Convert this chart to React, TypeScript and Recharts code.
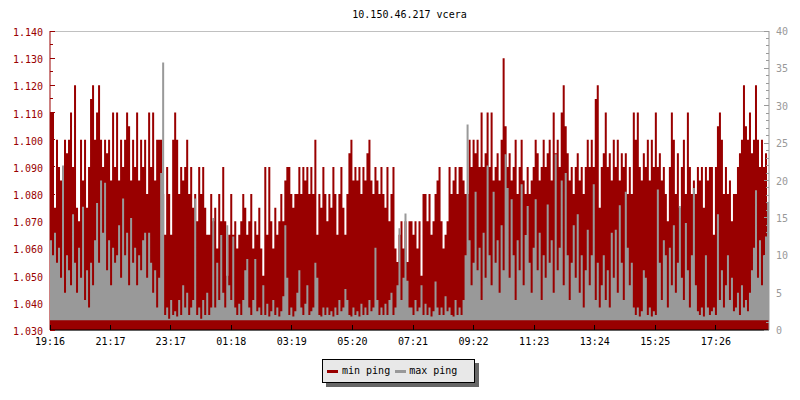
import React from 'react';
import { ComposedChart, Area, XAxis, YAxis, CartesianGrid, Legend } from 'recharts';

const TITLE = '10.150.46.217 vcera';
const timeLabels = ['19:16', '21:17', '23:17', '01:18', '03:19', '05:20', '07:21', '09:22', '11:23', '13:24', '15:25', '17:26'];
const timeTickMinutes = [0, 121, 241, 362, 483, 604, 725, 846, 967, 1088, 1209, 1330];
const leftTicks = [1.03, 1.035, 1.04, 1.045, 1.05, 1.055, 1.06, 1.065, 1.07, 1.075, 1.08, 1.085, 1.09, 1.095, 1.1, 1.105, 1.11, 1.115, 1.12, 1.125, 1.13, 1.135, 1.14];
const gridTicks = [1.04, 1.05, 1.06, 1.07, 1.08, 1.09, 1.1, 1.11, 1.12, 1.13, 1.14];
const rightTicks = [0, 1, 2, 3, 4, 5, 6, 7, 8, 9, 10, 11, 12, 13, 14, 15, 16, 17, 18, 19, 20, 21, 22, 23, 24, 25, 26, 27, 28, 29, 30, 31, 32, 33, 34, 35, 36, 37, 38, 39, 40];
const SAMPLE_MINUTES = 4;

const minPing = [
  1.110, 1.110, 1.075, 1.100, 1.090, 1.085, 1.090, 1.100, 1.095, 1.100,
  1.110, 1.090, 1.120, 1.075, 1.070, 1.100, 1.085, 1.100, 1.075, 1.090,
  1.115, 1.120, 1.100, 1.110, 1.120, 1.100, 1.090, 1.100, 1.095, 1.100,
  1.085, 1.110, 1.090, 1.110, 1.085, 1.100, 1.090, 1.100, 1.110, 1.105,
  1.085, 1.100, 1.090, 1.110, 1.085, 1.100, 1.090, 1.100, 1.080, 1.110,
  1.090, 1.110, 1.085, 1.100, 1.100, 1.100, 1.080, 1.065, 1.090, 1.080,
  1.065, 1.100, 1.110, 1.100, 1.080, 1.090, 1.085, 1.090, 1.100, 1.080,
  1.090, 1.075, 1.080, 1.070, 1.090, 1.080, 1.090, 1.075, 1.065, 1.065,
  1.080, 1.070, 1.075, 1.060, 1.080, 1.070, 1.090, 1.070, 1.050, 1.065,
  1.080, 1.065, 1.070, 1.060, 1.065, 1.070, 1.080, 1.075, 1.065, 1.070,
  1.080, 1.060, 1.070, 1.065, 1.075, 1.060, 1.050, 1.090, 1.065, 1.090,
  1.070, 1.060, 1.075, 1.065, 1.070, 1.080, 1.070, 1.085, 1.090, 1.090,
  1.080, 1.075, 1.080, 1.080, 1.090, 1.080, 1.090, 1.085, 1.090, 1.080,
  1.090, 1.080, 1.100, 1.065, 1.080, 1.075, 1.090, 1.080, 1.070, 1.080,
  1.075, 1.090, 1.080, 1.065, 1.080, 1.090, 1.075, 1.065, 1.080, 1.095,
  1.100, 1.085, 1.090, 1.085, 1.090, 1.080, 1.090, 1.085, 1.095, 1.100,
  1.085, 1.080, 1.090, 1.085, 1.080, 1.090, 1.080, 1.075, 1.090, 1.070,
  1.080, 1.090, 1.060, 1.055, 1.065, 1.070, 1.060, 1.070, 1.055, 1.070,
  1.070, 1.065, 1.070, 1.060, 1.070, 1.050, 1.080, 1.080, 1.070, 1.080,
  1.065, 1.070, 1.080, 1.085, 1.090, 1.070, 1.060, 1.065, 1.070, 1.090,
  1.080, 1.085, 1.090, 1.080, 1.090, 1.090, 1.085, 1.080, 1.080, 1.100,
  1.090, 1.100, 1.095, 1.100, 1.090, 1.110, 1.090, 1.095, 1.110, 1.090,
  1.110, 1.085, 1.090, 1.095, 1.085, 1.100, 1.130, 1.105, 1.090, 1.095,
  1.085, 1.090, 1.100, 1.080, 1.090, 1.100, 1.085, 1.080, 1.090, 1.080,
  1.085, 1.090, 1.100, 1.095, 1.085, 1.090, 1.100, 1.090, 1.095, 1.100,
  1.085, 1.110, 1.095, 1.100, 1.090, 1.110, 1.120, 1.105, 1.095, 1.085,
  1.090, 1.080, 1.090, 1.095, 1.085, 1.090, 1.080, 1.090, 1.100, 1.090,
  1.100, 1.090, 1.115, 1.120, 1.075, 1.090, 1.095, 1.110, 1.090, 1.095,
  1.085, 1.100, 1.090, 1.100, 1.085, 1.095, 1.090, 1.095, 1.080, 1.090,
  1.080, 1.110, 1.100, 1.110, 1.090, 1.085, 1.095, 1.090, 1.100, 1.085,
  1.100, 1.090, 1.110, 1.090, 1.095, 1.085, 1.090, 1.080, 1.070, 1.090,
  1.110, 1.100, 1.080, 1.095, 1.075, 1.090, 1.100, 1.080, 1.110, 1.090,
  1.080, 1.085, 1.080, 1.090, 1.085, 1.090, 1.075, 1.090, 1.085, 1.090,
  1.090, 1.065, 1.090, 1.105, 1.110, 1.100, 1.080, 1.090, 1.080, 1.085,
  1.070, 1.080, 1.080, 1.090, 1.095, 1.100, 1.120, 1.105, 1.100, 1.110,
  1.095, 1.100, 1.120, 1.100, 1.090, 1.100, 1.090, 1.095, 1.070, 1.100,
];

const maxPing = [
  12, 10, 13, 9, 11, 7, 22, 5, 10, 8,
  6, 15.5, 9, 5, 11, 7, 16.5, 4, 8, 3,
  9, 6, 12, 17, 9, 20, 13, 19.7, 8, 12,
  6, 11, 9, 10, 14, 7, 17.6, 10, 13, 6,
  15, 9, 11, 6, 10, 8, 12, 13, 7, 13,
  9, 5, 8, 3, 7, 21, 35.8, 2, 3, 1.5,
  4, 2, 2.5, 1.8, 4, 2, 6, 3, 5, 2,
  3, 4, 17.6, 2, 3, 1.5, 4, 2, 5, 2,
  3, 15, 3, 9, 4, 12.7, 5, 3, 14, 6,
  4, 12.5, 3, 2, 3.5, 2, 4, 8, 9.5, 3,
  2, 4, 9.5, 2.5, 3, 2, 6, 2, 3.5, 1.8,
  2.5, 4, 2, 3, 1.8, 2.5, 4.5, 14, 7, 2,
  3, 1.8, 2.5, 5, 8, 3, 2, 3.5, 6, 2,
  2.5, 3, 9, 7, 2, 1.8, 3, 2, 3, 2,
  2.5, 1.8, 3, 2, 4, 2.5, 3, 5.5, 4, 2,
  1.8, 3, 2, 2.5, 1.8, 3.5, 2, 3, 2, 4,
  2.5, 3, 11, 4, 2, 3, 2, 3.5, 2, 4,
  5, 2, 3, 6, 13.6, 4, 7, 15.6, 6.6, 3,
  3, 2, 4, 2.5, 3, 6, 2, 3.5, 2, 3,
  1.8, 2.5, 6.5, 3, 2, 3, 2, 4.5, 2.5, 3,
  2, 1.8, 4, 2, 3, 2, 4, 10, 27.5, 12,
  6, 9, 18.5, 8, 11, 4, 13, 7, 22, 10,
  6, 18.5, 9, 12, 5, 14, 8, 23.5, 19, 7,
  17.5, 10, 4, 12, 8, 19.5, 6, 12.7, 16.6, 9,
  5, 11, 17.5, 8, 13, 4, 10, 7, 16.8, 9,
  12, 5, 23.5, 8, 11, 20, 6, 21, 10, 4,
  9, 14, 7, 15.5, 5, 10, 3, 8, 13.4, 6,
  10, 19.5, 4, 9, 3, 6, 10, 4, 8, 3,
  13, 7, 13.4, 5, 16.7, 9, 4, 18.5, 11, 6,
  9, 3, 2, 3, 1.8, 2.5, 8, 7, 2, 3,
  1.8, 2.5, 2, 18.8, 9, 4, 12, 10, 3, 11,
  6, 14, 5, 9, 16.6, 7, 4, 14.3, 8, 3,
  10, 19, 6, 2.5, 2, 3, 1.8, 10, 3, 2,
  2.5, 3, 2, 15.5, 4, 8, 3, 6, 10, 4,
  7, 2.5, 3, 5, 2, 6, 3, 4, 2.5, 5,
  8, 11, 18.7, 7, 12, 6, 10, 12.5, 17, 11,
];

const data = minPing.map((v, i) => ({ t: i * SAMPLE_MINUTES, minv: v, maxv: maxPing[i] }));
const lastMinute = (minPing.length - 1) * SAMPLE_MINUTES;

const FONT = '"DejaVu Sans Mono", "Liberation Mono", monospace';
const RED = '#990000';
const GRAY = '#999999';

const LeftTick = (props: any) => {
  const { x, y, payload } = props;
  const v = payload.value as number;
  const major = Math.round(v * 1000) % 10 === 0;
  return (
    <g>
      <line x1={x} x2={x + (major ? 5 : 3)} y1={y} y2={y} stroke={RED} shapeRendering="crispEdges" />
      {major && (
        <text x={x - 7} y={y + 5} textAnchor="end" fill={RED} fontSize={10} fontFamily={FONT}>
          {v.toFixed(3)}
        </text>
      )}
    </g>
  );
};

const RightTick = (props: any) => {
  const { x, y, payload } = props;
  const v = payload.value as number;
  const major = v % 5 === 0;
  return (
    <g>
      <line x1={x - (major ? 5 : 3)} x2={x} y1={y} y2={y} stroke={GRAY} shapeRendering="crispEdges" />
      {major && (
        <text x={x + 7} y={y + 4} textAnchor="start" fill={GRAY} fontSize={10} fontFamily={FONT}>
          {String(v)}
        </text>
      )}
    </g>
  );
};

const BottomTick = (props: any) => {
  const { x, y, payload } = props;
  const idx = timeTickMinutes.indexOf(payload.value);
  return (
    <g>
      <line x1={x} x2={x} y1={y - 5} y2={y} stroke="#000" shapeRendering="crispEdges" />
      <text x={x} y={y + 15} textAnchor="middle" fill="#000" fontSize={10} fontFamily={FONT}>
        {idx >= 0 ? timeLabels[idx] : ''}
      </text>
    </g>
  );
};

const renderLegend = () => (
  <div
    style={{
      boxSizing: 'border-box',
      width: 153,
      height: 24,
      border: '1px solid #000',
      background: '#e8e8e8',
      boxShadow: '4px 4px 0 #666666',
      display: 'flex',
      alignItems: 'center',
      fontFamily: FONT,
      fontSize: 10,
      color: '#000',
      lineHeight: '12px',
    }}
  >
    <span style={{ display: 'inline-block', width: 11, height: 3, background: RED, marginLeft: 4 }} />
    <span style={{ marginLeft: 4 }}>min ping</span>
    <span style={{ display: 'inline-block', width: 11, height: 3, background: GRAY, marginLeft: 5 }} />
    <span style={{ marginLeft: 3 }}>max ping</span>
  </div>
);

const layer: React.CSSProperties = { position: 'absolute', left: 0, top: 0 };

export default function App() {
  return (
    <div style={{ position: 'absolute', left: 0, top: 0, width: 800, height: 400, background: '#fff' }}>
      <div
        style={{
          position: 'absolute',
          left: 0,
          top: 8.5,
          width: 819,
          textAlign: 'center',
          fontFamily: FONT,
          fontSize: 10,
          lineHeight: '12px',
          color: '#000',
        }}
      >
        {TITLE}
      </div>
      <div style={layer}>
        <ComposedChart width={800} height={400} data={data} margin={{ top: 31, right: 31, bottom: 70, left: 50 }}>
          <CartesianGrid yAxisId="g" vertical={false} stroke="#c0c0c0" shapeRendering="crispEdges" />
          <XAxis dataKey="t" type="number" domain={[0, lastMinute]} hide />
          <YAxis yAxisId="g" hide domain={[1.03, 1.14]} ticks={gridTicks} />
        </ComposedChart>
      </div>
      <div style={layer}>
        <ComposedChart width={800} height={400} data={data} margin={{ top: 31, right: 31, bottom: 50, left: 0 }}>
          <Area
            yAxisId="left"
            type="stepAfter"
            dataKey="minv"
            fill={RED}
            fillOpacity={1}
            stroke="none"
            isAnimationActive={false}
          />
          <XAxis
            dataKey="t"
            type="number"
            domain={[0, lastMinute]}
            ticks={timeTickMinutes}
            interval={0}
            height={20}
            tickSize={0}
            tickMargin={0}
            tickLine={false}
            tick={<BottomTick />}
            axisLine={{ stroke: '#000' }}
          />
          <YAxis
            yAxisId="left"
            width={50}
            domain={[1.03, 1.14]}
            ticks={leftTicks}
            interval={0}
            tickSize={0}
            tickMargin={0}
            tickLine={false}
            tick={<LeftTick />}
            axisLine={{ stroke: RED }}
            allowDataOverflow
          />
        </ComposedChart>
      </div>
      <div style={{ ...layer, pointerEvents: 'none' }}>
        <ComposedChart width={800} height={400} data={data} margin={{ top: 31, right: 0, bottom: 70, left: 50 }}>
          <Area
            yAxisId="right"
            type="stepAfter"
            dataKey="maxv"
            baseValue={1.3}
            fill={GRAY}
            fillOpacity={1}
            stroke="none"
            isAnimationActive={false}
          />
          <XAxis dataKey="t" type="number" domain={[0, lastMinute]} hide />
          <YAxis
            yAxisId="right"
            orientation="right"
            width={31}
            domain={[0, 40]}
            ticks={rightTicks}
            interval={0}
            tickSize={0}
            tickMargin={0}
            tickLine={false}
            tick={<RightTick />}
            axisLine={{ stroke: GRAY }}
            allowDataOverflow
          />
          <Legend
            layout="horizontal"
            verticalAlign="middle"
            align="center"
            content={renderLegend}
            wrapperStyle={{ left: 322, top: 359, width: 153, height: 24 }}
          />
        </ComposedChart>
      </div>
    </div>
  );
}
